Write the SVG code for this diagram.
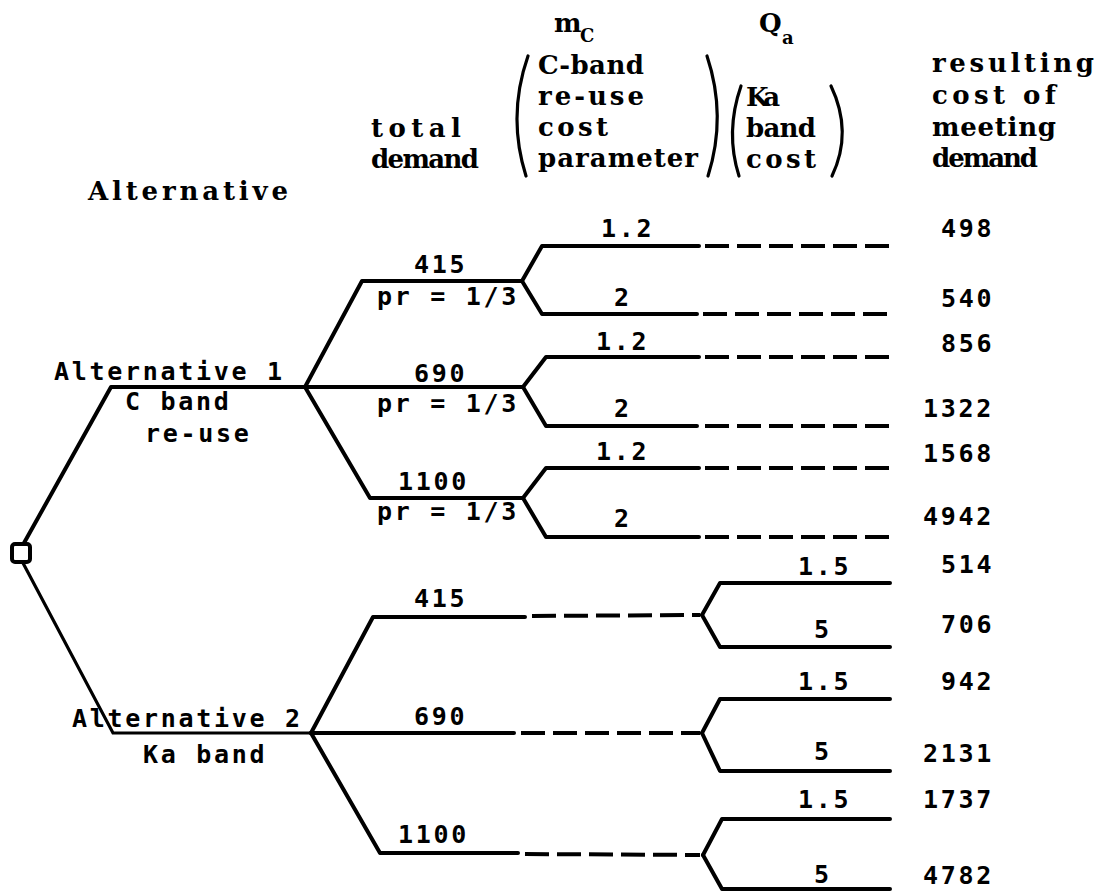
<svg xmlns="http://www.w3.org/2000/svg" width="1106" height="893" viewBox="0 0 1106 893">
<style>
.hd{font-family:"DejaVu Serif","Liberation Serif",serif;font-weight:bold;font-size:26px;fill:#000}
.sub{font-family:"DejaVu Serif","Liberation Serif",serif;font-weight:bold;font-size:18px;fill:#000}
.lb{font-family:"DejaVu Sans Mono",monospace;font-weight:bold;font-size:25px;letter-spacing:2.7px;fill:#000}
.ln{fill:none;stroke:#000;stroke-width:4;stroke-linejoin:round;stroke-linecap:round}
.thin{fill:none;stroke:#000;stroke-width:3.2;stroke-linecap:round}
.ds{fill:none;stroke:#000;stroke-width:4;stroke-dasharray:24 8}
.par{fill:none;stroke:#000;stroke-width:3.2;stroke-linecap:round}
</style>
<rect width="1106" height="893" fill="#fff"/>

<g id="headers">
  <text class="hd" x="88" y="200" textLength="200" lengthAdjust="spacing">Alternative</text>
  <text class="hd" x="371" y="137" textLength="90" lengthAdjust="spacing">total</text>
  <text class="hd" x="371" y="168" textLength="108" lengthAdjust="spacing">demand</text>
  <text class="hd" x="554" y="32" font-size="22">m</text>
  <text class="sub" x="580" y="42">C</text>
  <path class="par" d="M528,56 Q507,116 526,176"/>
  <text class="hd" x="538" y="74" textLength="106" lengthAdjust="spacing">C-band</text>
  <text class="hd" x="538" y="105" textLength="106" lengthAdjust="spacing">re-use</text>
  <text class="hd" x="538" y="136" textLength="70" lengthAdjust="spacing">cost</text>
  <text class="hd" x="538" y="167" textLength="160" lengthAdjust="spacing">parameter</text>
  <path class="par" d="M707,56 Q727,116 708,176"/>
  <text class="hd" x="759" y="32" font-size="24">Q</text>
  <text class="sub" x="782" y="44">a</text>
  <path class="par" d="M741,86 Q725,132 739,176"/>
  <text class="hd" x="746" y="106" textLength="34" lengthAdjust="spacing">Ka</text>
  <text class="hd" x="746" y="137" textLength="70" lengthAdjust="spacing">band</text>
  <text class="hd" x="746" y="168" textLength="70" lengthAdjust="spacing">cost</text>
  <path class="par" d="M831,86 Q853,132 832,176"/>
  <text class="hd" x="932" y="72" textLength="162" lengthAdjust="spacing">resulting</text>
  <text class="hd" x="932" y="104" textLength="124" lengthAdjust="spacing">cost of</text>
  <text class="hd" x="932" y="136" textLength="124" lengthAdjust="spacing">meeting</text>
  <text class="hd" x="932" y="167" textLength="106" lengthAdjust="spacing">demand</text>
</g>

<g id="connectors">
  <path class="ln" d="M24,543 L111,387 L305,387"/>
  <path class="thin" d="M23,563 L113,733 L311,733"/>
  <path class="ln" d="M305,387 L362,281 L522,281"/>
  <path class="ln" d="M305,387 L523,387"/>
  <path class="ln" d="M305,387 L370,498 L523,498"/>
  <path class="ln" d="M522,281 L542,246 L699,246"/>
  <path class="ln" d="M522,281 L542,314 L697,314"/>
  <path class="ln" d="M523,387 L546,357 L699,357"/>
  <path class="ln" d="M523,387 L546,426 L697,426"/>
  <path class="ln" d="M523,498 L546,468 L699,468"/>
  <path class="ln" d="M523,498 L546,537 L699,537"/>
  <path class="ds" d="M705,246 L890,246"/>
  <path class="ds" d="M703,314 L890,314"/>
  <path class="ds" d="M705,357 L890,357"/>
  <path class="ds" d="M705,426 L890,426"/>
  <path class="ds" d="M705,468 L890,468"/>
  <path class="ds" d="M705,537 L890,537"/>
  <path class="ln" d="M311,733 L373,617 L525,617"/>
  <path class="ln" d="M311,733 L514,733"/>
  <path class="ln" d="M311,733 L380,853 L518,853"/>
  <path class="ds" d="M532,616 L700,615"/>
  <path class="ds" d="M521,733 L700,733"/>
  <path class="ds" d="M525,854 L700,855"/>
  <path class="ln" d="M702,615 L720,583 L890,583"/>
  <path class="ln" d="M702,615 L720,647 L890,647"/>
  <path class="ln" d="M702,733 L720,699 L890,699"/>
  <path class="ln" d="M702,733 L720,771 L890,771"/>
  <path class="ln" d="M703,855 L722,819 L890,819"/>
  <path class="ln" d="M703,855 L722,889 L890,889"/>
</g>

<g id="decision">
  <rect x="12" y="544" width="18" height="18" rx="3" fill="#fff" stroke="#000" stroke-width="4"/>
</g>

<g id="alt1">
  <text class="lb" x="54" y="380">Alternative 1</text>
  <text class="lb" x="125" y="410">C band</text>
  <text class="lb" x="145" y="442">re-use</text>
</g>
<g id="alt2">
  <text class="lb" x="72" y="727">Alternative 2</text>
  <text class="lb" x="143" y="763">Ka band</text>
</g>

<g id="demand1">
  <text class="lb" x="414" y="273">415</text>
  <text class="lb" x="377" y="305">pr = 1/3</text>
  <text class="lb" x="414" y="382">690</text>
  <text class="lb" x="377" y="412">pr = 1/3</text>
  <text class="lb" x="398" y="490">1100</text>
  <text class="lb" x="377" y="520">pr = 1/3</text>
</g>
<g id="demand2">
  <text class="lb" x="414" y="607">415</text>
  <text class="lb" x="414" y="725">690</text>
  <text class="lb" x="398" y="843">1100</text>
</g>

<g id="mc">
  <text class="lb" x="601" y="237">1.2</text>
  <text class="lb" x="614" y="306">2</text>
  <text class="lb" x="596" y="350">1.2</text>
  <text class="lb" x="614" y="417">2</text>
  <text class="lb" x="596" y="460">1.2</text>
  <text class="lb" x="614" y="527">2</text>
</g>
<g id="qa">
  <text class="lb" x="798" y="575">1.5</text>
  <text class="lb" x="814" y="638">5</text>
  <text class="lb" x="798" y="690">1.5</text>
  <text class="lb" x="814" y="760">5</text>
  <text class="lb" x="798" y="808">1.5</text>
  <text class="lb" x="814" y="883">5</text>
</g>

<g id="results">
  <text class="lb" x="941" y="237">498</text>
  <text class="lb" x="941" y="307">540</text>
  <text class="lb" x="941" y="352">856</text>
  <text class="lb" x="923" y="417">1322</text>
  <text class="lb" x="923" y="462">1568</text>
  <text class="lb" x="923" y="525">4942</text>
  <text class="lb" x="941" y="573">514</text>
  <text class="lb" x="941" y="633">706</text>
  <text class="lb" x="941" y="690">942</text>
  <text class="lb" x="923" y="762">2131</text>
  <text class="lb" x="923" y="808">1737</text>
  <text class="lb" x="923" y="884">4782</text>
</g>
</svg>
